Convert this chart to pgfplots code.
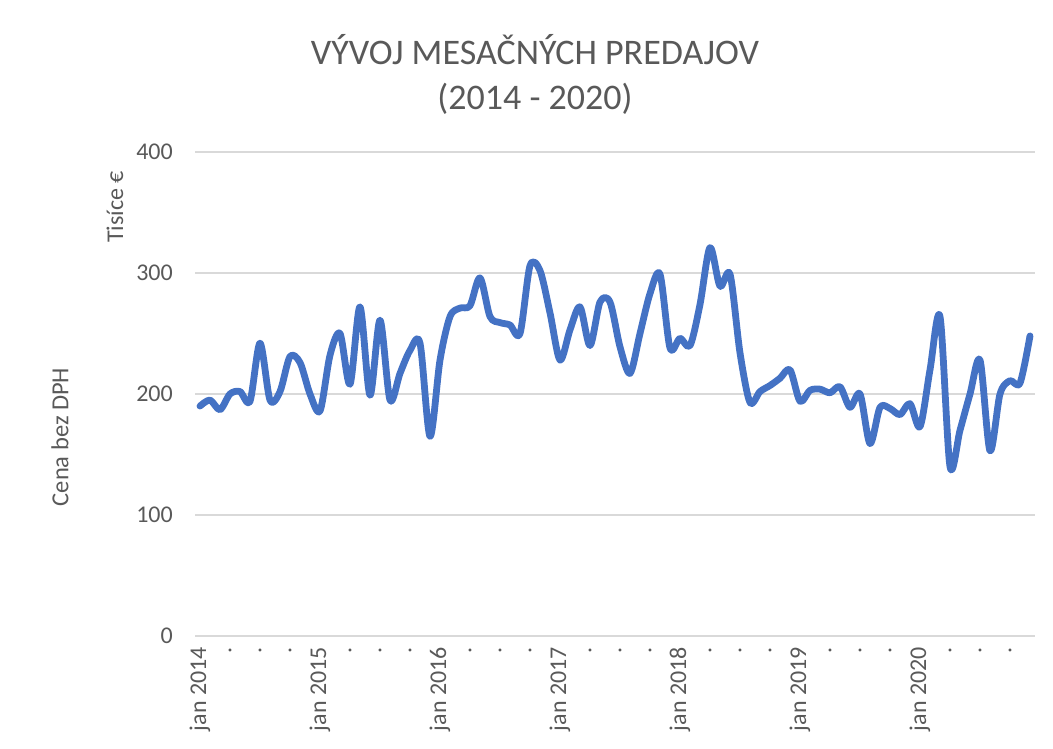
\documentclass[border=0pt]{standalone}
\usepackage{fontspec}
\setmainfont{Carlito}
\usepackage{pgfplots}
\pgfplotsset{compat=1.18}
\usepackage{pgfplotstable}
\definecolor{txtgray}{HTML}{595959}
\definecolor{gridgray}{HTML}{D9D9D9}
\definecolor{lineblue}{HTML}{4472C4}
\pgfplotstableread{
i v
0 190
1 195
2 187
3 200
4 202
5 194
6 242
7 195
8 202
9 231
10 226
11 200
12 186
13 232
14 250
15 208
16 272
17 199
18 261
19 195
20 217
21 236
22 242
23 165
24 228
25 264
26 271
27 273
28 296
29 264
30 259
31 257
32 250
33 306
34 302
35 267
36 228
37 253
38 272
39 240
40 276
41 276
42 239
43 217
44 250
45 283
46 299
47 238
48 246
49 240
50 274
51 321
52 289
53 299
54 234
55 193
56 202
57 207
58 213
59 220
60 194
61 203
62 204
63 201
64 206
65 189
66 200
67 159
68 189
69 188
70 183
71 192
72 173
73 220
74 264
75 140
76 170
77 200
78 228
79 153
80 200
81 211
82 209
83 248
}\sales
\begin{document}
\begin{tikzpicture}[x=1pt,y=1pt]
\path[use as bounding box] (0,0) rectangle (1053,749);
\begin{axis}[
  at={(195pt,113pt)}, anchor=south west,
  scale only axis, width=840pt, height=484pt,
  xmin=-0.5, xmax=83.5, ymin=0, ymax=400,
  axis line style={draw=none},
  ytick={0,100,200,300,400},
  ymajorgrids, grid style={gridgray, line width=1.5pt},
  major tick length=0pt,
  xtick={0,3,...,81},
  xticklabels={jan 2014,.,.,.,jan 2015,.,.,.,jan 2016,.,.,.,jan 2017,.,.,.,jan 2018,.,.,.,jan 2019,.,.,.,jan 2020,.,.,.},
  xticklabel style={rotate=90, anchor=east, inner sep=0pt, font=\fontsize{24}{28}\selectfont, text=txtgray, xshift=3pt},
  xticklabel shift=14pt,
  yticklabel style={anchor=east, inner sep=0pt, font=\fontsize{24}{28}\selectfont, text=txtgray},
  yticklabel shift=22pt,
  /pgf/number format/assume math mode=true,
  clip=false,
]
\addplot[lineblue, line width=6.8pt, smooth, tension=0.5, line join=round, line cap=round] table[x=i, y=v] {\sales};
\end{axis}
\node[anchor=base, text=txtgray, font=\fontsize{36}{40}\selectfont] at (535,684) {VÝVOJ MESAČNÝCH PREDAJOV};
\node[anchor=base, text=txtgray, font=\fontsize{36}{40}\selectfont] at (535,639) {(2014 - 2020)};
\node[rotate=90, text=txtgray, font=\fontsize{24}{28}\selectfont, inner sep=0pt] at (115,542) {Tisíce €};
\node[rotate=90, text=txtgray, font=\fontsize{24.5}{28}\selectfont, inner sep=0pt] at (60,312) {Cena bez DPH};
\end{tikzpicture}
\end{document}
